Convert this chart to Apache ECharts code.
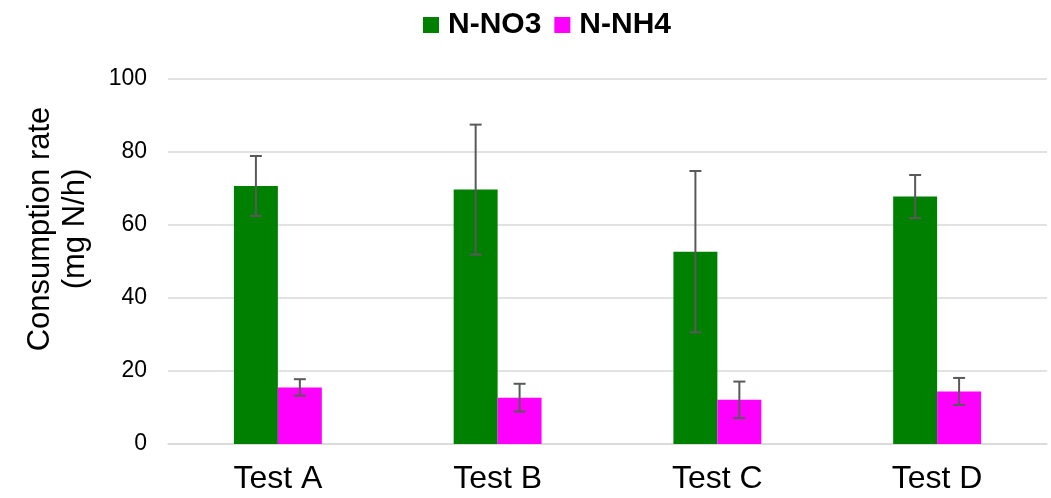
<!DOCTYPE html>
<html>
<head>
<meta charset="utf-8">
<script src="https://cdn.jsdelivr.net/npm/echarts@6/dist/echarts.min.js"></script>
<style>html,body{margin:0;padding:0;background:#fff;}#chart{width:1051px;height:498px;}</style>
</head>
<body>
<div id="chart"></div>
<script>
var categories = ['Test A', 'Test B', 'Test C', 'Test D'];
var seriesNames = ['N-NO3', 'N-NH4'];
var no3Values = [70.7, 69.7, 52.7, 67.8];
var no3Errors = [8.2, 17.8, 22.1, 5.9];
var nh4Values = [15.5, 12.7, 12.1, 14.4];
var nh4Errors = [2.25, 3.8, 5.0, 3.7];
var yTicks = [0, 20, 40, 60, 80, 100];

var FONT = '"Liberation Sans", Arial, sans-serif';
var chart = echarts.init(document.getElementById('chart'), null, {renderer: 'canvas'});

function errData(vals, errs) {
  return vals.map(function (v, i) { return [i, v - errs[i], v + errs[i]]; });
}
function errSeries(vals, errs, side) {
  return {
    type: 'custom',
    silent: true,
    z: 10,
    data: errData(vals, errs),
    encode: {x: 0, y: [1, 2]},
    renderItem: function (params, api) {
      var i = api.value(0);
      var band = api.size([1, 0])[0];
      var off = side * band * 0.1;
      var lo = api.coord([i, api.value(1)]);
      var hi = api.coord([i, api.value(2)]);
      var x = lo[0] + off;
      var cap = 6;
      var st = {stroke: '#595959', lineWidth: 2, fill: null};
      return {
        type: 'group',
        children: [
          {type: 'line', shape: {x1: x, y1: lo[1], x2: x, y2: hi[1]}, style: st},
          {type: 'line', shape: {x1: x - cap, y1: lo[1], x2: x + cap, y2: lo[1]}, style: st},
          {type: 'line', shape: {x1: x - cap, y1: hi[1], x2: x + cap, y2: hi[1]}, style: st}
        ]
      };
    }
  };
}

chart.setOption({
  animation: false,
  backgroundColor: '#fff',
  textStyle: {fontFamily: FONT},
  legend: {
    data: seriesNames,
    left: 418,
    top: 5,
    itemWidth: 16,
    itemHeight: 16,
    itemGap: 13,
    icon: 'rect',
    textStyle: {fontFamily: FONT, fontSize: 30, fontWeight: 'bold', color: '#000', padding: [0, 0, 0, 4]}
  },
  grid: {left: 168, right: 4, top: 79, bottom: 54, containLabel: false},
  xAxis: {
    type: 'category',
    data: categories,
    axisLine: {show: true, lineStyle: {color: '#d9d9d9', width: 1.5}},
    axisTick: {show: false},
    axisLabel: {fontFamily: FONT, fontSize: 32, color: '#000', margin: 19}
  },
  yAxis: {
    type: 'value',
    min: yTicks[0],
    max: yTicks[yTicks.length - 1],
    interval: 20,
    axisLine: {show: false},
    axisTick: {show: false},
    splitLine: {lineStyle: {color: '#d9d9d9', width: 1.5}},
    axisLabel: {fontFamily: FONT, fontSize: 23, color: '#000', margin: 21}
  },
  graphic: [{
    type: 'text',
    x: 58,
    y: 229,
    rotation: Math.PI / 2,
    style: {
      text: 'Consumption rate\n(mg N/h)',
      fontFamily: FONT,
      fontSize: 31,
      lineHeight: 35,
      fill: '#000',
      align: 'center',
      verticalAlign: 'middle'
    }
  }],
  series: [
    {name: seriesNames[0], type: 'bar', data: no3Values, barWidth: '20%', barGap: '0%',
     itemStyle: {color: '#008000'}},
    {name: seriesNames[1], type: 'bar', data: nh4Values, barWidth: '20%', barGap: '0%',
     itemStyle: {color: '#ff00ff'}},
    errSeries(no3Values, no3Errors, -1),
    errSeries(nh4Values, nh4Errors, 1)
  ]
});
</script>
</body>
</html>
